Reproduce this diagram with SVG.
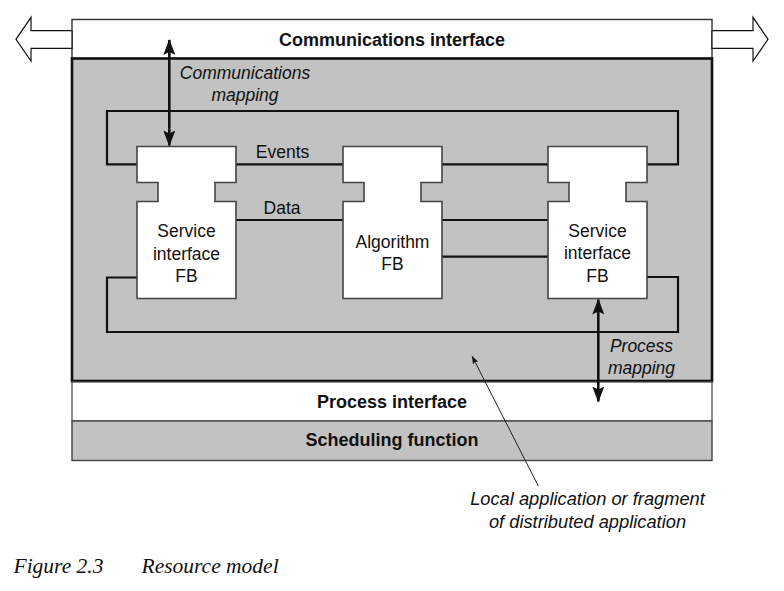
<svg xmlns="http://www.w3.org/2000/svg" width="784" height="591" viewBox="0 0 784 591">
<style>
.fb{fill:#fff;stroke:#444;stroke-width:1.6}
.lbl{font-family:"Liberation Sans",Arial,sans-serif;font-size:17.5px;fill:#111;text-anchor:middle}
.it{font-style:italic}
.bold{font-weight:bold;font-size:18px}
.note{font-size:18.3px}
.wire{fill:none;stroke:#111;stroke-width:2.2}
.big{fill:#fff;stroke:#111;stroke-width:1.2}
.cap{font-family:"Liberation Serif","Times New Roman",serif;font-style:italic;font-size:21.5px;fill:#111}
</style>
<defs>
<marker id="ah" viewBox="0 0 16 12" refX="15" refY="6" markerWidth="16" markerHeight="12" markerUnits="userSpaceOnUse" orient="auto-start-reverse">
<path d="M0,0 L16,6 L0,12 L3,6 Z" fill="#111"/>
</marker>
<marker id="sa" viewBox="0 0 8 6" refX="8" refY="3" markerWidth="8" markerHeight="6" markerUnits="userSpaceOnUse" orient="auto">
<path d="M0,0 L8,3 L0,6 L1.5,3 Z" fill="#111"/>
</marker>
</defs>
<rect width="784" height="591" fill="#fff"/>

<g id="comm-interface">
<rect x="72" y="19.5" width="640" height="39" fill="#fff" stroke="#333" stroke-width="1.4"/>
<polygon class="big" points="72,30.7 31,30.7 31,17.3 16,39.3 31,61 31,48.3 72,48.3"/>
<polygon class="big" points="712,30.7 753,30.7 753,17.3 768,39.3 753,61 753,48.3 712,48.3"/>
<text class="lbl bold" x="392" y="45.5">Communications interface</text>
</g>

<g id="resource-area">
<rect x="72" y="58.5" width="640" height="322.5" fill="#c2c2c2" stroke="#111" stroke-width="2.6"/>
</g>

<g id="process-interface">
<rect x="72" y="382" width="640" height="39" fill="#fff" stroke="#444" stroke-width="1.2"/>
<text class="lbl bold" x="392" y="408">Process interface</text>
</g>

<g id="scheduling-function">
<rect x="72" y="421" width="640" height="39.5" fill="#c2c2c2" stroke="#444" stroke-width="1.4"/>
<text class="lbl bold" x="392" y="446">Scheduling function</text>
</g>

<g id="connectors">
<path class="wire" d="M137,164.3 H107 V111 H678 V164.3 H647"/>
<path class="wire" d="M137,277.5 H107 V332 H678 V277 H647"/>
<path class="wire" d="M236,164.3 H343 M442,164.3 H548"/>
<path class="wire" d="M236,220 H343 M442,220 H548 M442,256.7 H548"/>
<line x1="169.3" y1="40" x2="169.3" y2="145.5" stroke="#111" stroke-width="2.6" marker-start="url(#ah)" marker-end="url(#ah)"/>
<line x1="598.3" y1="299.5" x2="598.3" y2="401.5" stroke="#111" stroke-width="2.6" marker-start="url(#ah)" marker-end="url(#ah)"/>
<line x1="538.3" y1="486" x2="472" y2="356" stroke="#222" stroke-width="1" marker-end="url(#sa)"/>
<text class="lbl it" x="245" y="79">Communications</text>
<text class="lbl it" x="245" y="101">mapping</text>
<text class="lbl it" x="641.5" y="352">Process</text>
<text class="lbl it" x="641.5" y="374">mapping</text>
<text class="lbl" x="282.5" y="158">Events</text>
<text class="lbl" x="282" y="214">Data</text>
</g>

<g id="service-fb-left">
<path class="fb" d="M137,146.5 H236 V182.5 H215 V201.5 H236 V298.5 H137 V201.5 H158 V182.5 H137 Z"/>
<text class="lbl" x="186.5" y="237">Service</text>
<text class="lbl" x="186.5" y="259.5">interface</text>
<text class="lbl" x="186.5" y="282">FB</text>
</g>

<g id="algorithm-fb">
<path class="fb" d="M343,146.5 H442 V182.5 H421 V201.5 H442 V298.5 H343 V201.5 H364 V182.5 H343 Z"/>
<text class="lbl" x="392.5" y="248">Algorithm</text>
<text class="lbl" x="392.5" y="270">FB</text>
</g>

<g id="service-fb-right">
<path class="fb" d="M548,146.5 H647 V182.5 H626 V201.5 H647 V298.5 H548 V201.5 H569 V182.5 H548 Z"/>
<text class="lbl" x="597.5" y="236.5">Service</text>
<text class="lbl" x="597.5" y="259">interface</text>
<text class="lbl" x="597.5" y="281.5">FB</text>
</g>

<g id="annotation">
<text class="lbl it note" x="587.5" y="505">Local application or fragment</text>
<text class="lbl it note" x="587.5" y="528">of distributed application</text>
</g>

<g id="caption">
<text class="cap" x="13.5" y="573">Figure 2.3</text>
<text class="cap" x="141.5" y="573">Resource model</text>
</g>
</svg>
